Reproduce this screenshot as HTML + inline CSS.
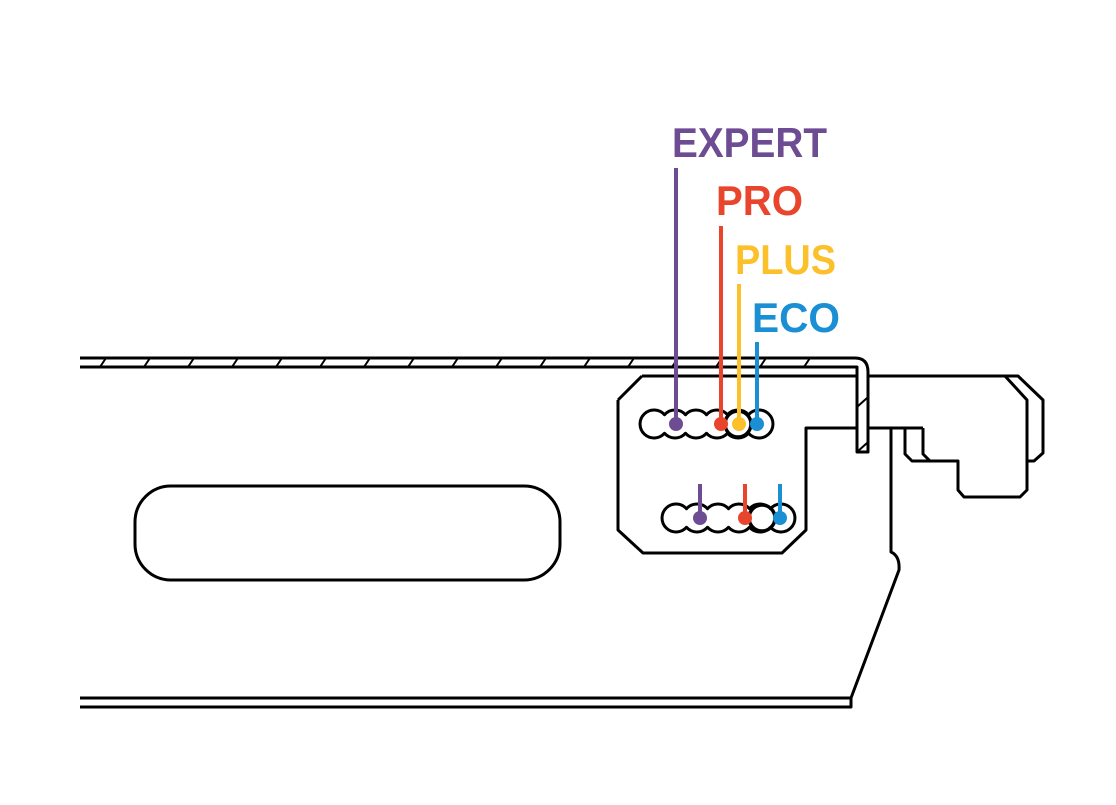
<!DOCTYPE html>
<html><head><meta charset="utf-8"><style>html,body{margin:0;padding:0;background:#fff}svg{display:block}</style></head>
<body>
<svg width="1116" height="805" viewBox="0 0 1116 805" xmlns="http://www.w3.org/2000/svg">
<g fill="none" stroke="#000" stroke-width="3" stroke-linejoin="round">
<path d="M80 358 H855 Q868 358 868 372 V452 H857 V367 H80"/>
<g stroke-width="2">
<path d="M100 367 L106 358 M144 367 L150 358 M188 367 L194 358 M232 367 L238 358 M276 367 L282 358 M320 367 L326 358 M364 367 L370 358 M408 367 L414 358 M452 367 L458 358 M496 367 L502 358 M540 367 L546 358 M584 367 L590 358 M628 367 L634 358 M672 367 L678 358 M716 367 L722 358 M760 367 L766 358 M804 367 L810 358 M857 407 L867 398 M857 452 L867 443"/>
</g>
<path d="M80 698 H851 V707 H80"/>
<path d="M851 698 L899 570 Q900 556 891 552 V428"/>
<path d="M642 376 H857 M618 400 L642 376 M618 400 V530 L643 553 H782 L806 530 V428 H857"/>
<path d="M867 376 H1005 L1027 400 V490 L1020 497 H964 L958 490 V461 H930 L923 454 V428 M867 428 H923 M905 428 V454 L912 461 H930"/>
<path d="M1005 376 H1018 L1043 400 V453 L1034 461 H1027"/>
<rect x="135" y="486" width="425" height="94" rx="36" ry="36"/>
<path d="M664.5 414.7 A14 14 0 1 0 664.5 433.3 A14 14 0 0 0 685.5 433.3 A14 14 0 0 0 706.5 433.3 A14 14 0 0 0 727.5 433.3 A14 14 0 0 0 748.5 433.3 A14 14 0 1 0 748.5 414.7 A14 14 0 0 0 727.5 414.7 A14 14 0 0 0 706.5 414.7 A14 14 0 0 0 685.5 414.7 A14 14 0 0 0 664.5 414.7 Z"/>
<circle cx="738" cy="424" r="13" stroke-width="3.5"/>
<path d="M686.5 508.7 A14 14 0 1 0 686.5 527.3 A14 14 0 0 0 707.5 527.3 A14 14 0 0 0 728.5 527.3 A14 14 0 0 0 749.5 527.3 A14 14 0 0 0 770.5 527.3 A14 14 0 1 0 770.5 508.7 A14 14 0 0 0 749.5 508.7 A14 14 0 0 0 728.5 508.7 A14 14 0 0 0 707.5 508.7 A14 14 0 0 0 686.5 508.7 Z"/>
<circle cx="762" cy="518" r="13" stroke-width="3.5"/>
</g>
<g stroke-width="4">
<line x1="676" y1="168" x2="676" y2="424" stroke="#6d4c94"/>
<line x1="721" y1="226" x2="721" y2="424" stroke="#e8452c"/>
<line x1="739" y1="284" x2="739" y2="424" stroke="#fcc02a"/>
<line x1="757" y1="342" x2="757" y2="424" stroke="#1a8fd4"/>
<line x1="700" y1="484" x2="700" y2="518" stroke="#6d4c94"/>
<line x1="745" y1="484" x2="745" y2="518" stroke="#e8452c"/>
<line x1="780" y1="484" x2="780" y2="518" stroke="#1a8fd4"/>
</g>
<circle cx="676" cy="424" r="7" fill="#6d4c94"/>
<circle cx="721" cy="424" r="7" fill="#e8452c"/>
<circle cx="739" cy="424" r="7" fill="#fcc02a"/>
<circle cx="757" cy="424" r="7" fill="#1a8fd4"/>
<circle cx="700" cy="518" r="7" fill="#6d4c94"/>
<circle cx="745" cy="518" r="7" fill="#e8452c"/>
<circle cx="780" cy="518" r="7" fill="#1a8fd4"/>
<g font-family="Liberation Sans, sans-serif" font-weight="bold" font-size="42">
<text x="672" y="157" fill="#6d4c94" textLength="155" lengthAdjust="spacingAndGlyphs">EXPERT</text>
<text x="716" y="215" fill="#e8452c" textLength="87" lengthAdjust="spacingAndGlyphs">PRO</text>
<text x="735" y="274" fill="#fcc02a" textLength="101" lengthAdjust="spacingAndGlyphs">PLUS</text>
<text x="752" y="332" fill="#1a8fd4" textLength="88" lengthAdjust="spacingAndGlyphs">ECO</text>
</g>
</svg>
</body></html>
